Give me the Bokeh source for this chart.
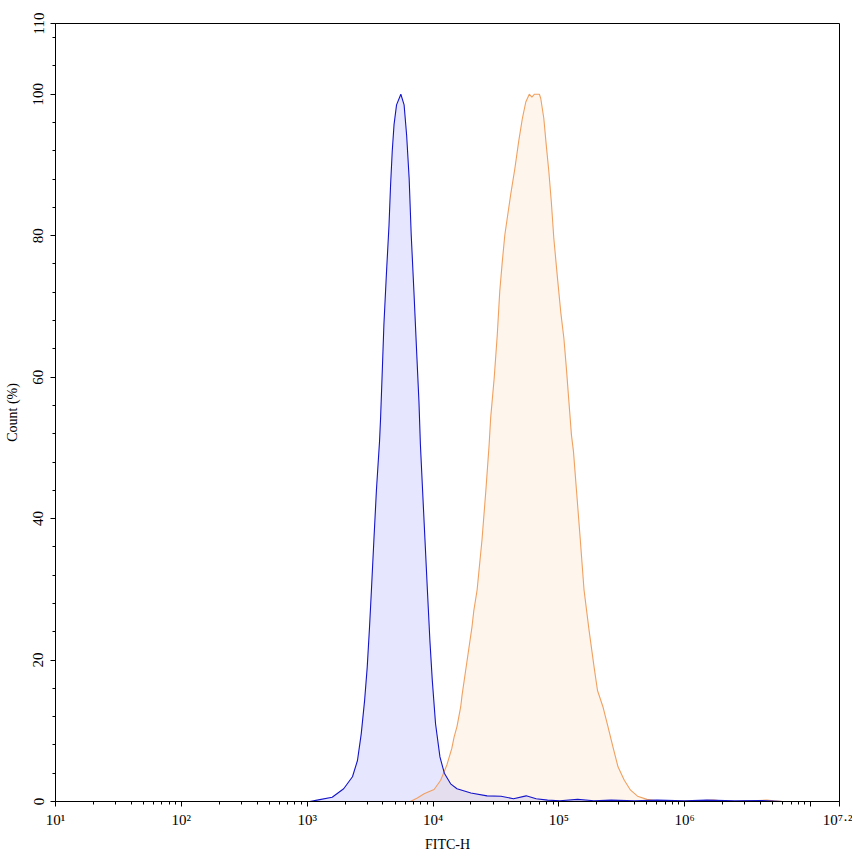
import math
from bokeh.plotting import figure
from bokeh.models import Range1d, FixedTicker
from bokeh.embed import file_html
from bokeh.resources import INLINE

# ---- data (FITC-H intensity, Count %) ----
blue_x = [1050, 1200, 1580, 1950, 2290, 2510, 2690, 2860, 3000, 3130, 3240, 3390, 3550,
          3760, 3830, 3950, 4070, 4270, 4470, 4600, 4740, 4900, 5130, 5550, 5890, 6170,
          6460, 6710, 7050, 7410, 7730, 7940, 8260, 8630, 9020, 9440, 9860, 10470, 11350,
          12300, 13800, 15500, 20000, 26900, 34700, 43600, 55000, 66000, 81300, 102000,
          141000, 190000, 260000, 400000, 600000, 1000000, 1500000, 2500000, 4000000,
          6000000]
blue_y = [0.0, 0.2, 0.6, 1.8, 3.5, 5.8, 9.6, 14.3, 19.0, 24.7, 29.9, 37.0, 44.0,
          51.0, 54.2, 60.8, 67.4, 74.9, 81.5, 87.2, 91.9, 95.7, 98.5, 100.0, 98.5, 94.2,
          88.1, 80.1, 72.1, 63.6, 56.5, 50.4, 44.0, 37.0, 29.9, 22.8, 17.2, 11.0, 6.3,
          4.0, 2.5, 1.8, 1.2, 0.8, 0.75, 0.4, 0.8, 0.4, 0.2, 0.1,
          0.3, 0.1, 0.2, 0.1, 0.2, 0.1, 0.2, 0.1, 0.15,
          0.0]

orange_x = [6600, 7500, 8500, 9550, 10200, 11500, 12900, 14100, 14700, 15500, 16600,
            17000, 18600, 20400, 21100, 22400, 24500, 26300, 27900, 28700, 30600, 32400,
            33900, 35500, 37200, 38900, 41400, 44700, 47900, 51300, 54600, 58200, 61000,
            64000, 70000, 71800, 75900, 79400, 83200, 87100, 91200, 97500, 103500, 109600,
            114800, 120200, 125900, 130600, 138000, 148000, 158500, 173800, 190500,
            202800, 223900, 245500, 269200, 295100, 331100, 371500, 421700, 501200,
            600000, 800000, 1400000, 1700000, 1950000, 2500000, 3800000, 4500000,
            5100000, 6000000]
orange_y = [0.0, 0.5, 1.1, 1.5, 1.7, 3.0, 5.2, 7.5, 9.1, 10.6, 13.4,
            15.0, 19.8, 24.7, 27.0, 29.9, 37.0, 44.0, 50.4, 54.2, 59.8, 66.0,
            72.1, 76.3, 80.1, 82.5, 85.8, 89.5, 93.3, 96.6, 98.9, 100.0, 99.6,
            100.0, 100.0, 99.4, 96.6, 92.8, 89.1, 84.8, 79.6, 74.0, 69.2, 65.5,
            61.2, 56.5, 51.8, 49.5, 44.0, 37.0, 29.9, 24.2, 19.0,
            15.7, 13.4, 10.6, 7.7, 4.9, 3.0, 1.6, 0.75, 0.3,
            0.1, 0.0, 0.15, 0.2, 0.1, 0.0, 0.15, 0.2,
            0.1, 0.0]

x_min = 10
x_max = 10 ** 7.23
x_ticks = [1e1, 1e2, 1e3, 1e4, 1e5, 1e6, 1e7, x_max]
x_tick_labels = ["10\u00b9", "10\u00b2", "10\u00b3", "10\u2074", "10\u2075", "10\u2076",
                 "", "10\u2077\u00b7\u00b2"]
x_minor = [k * 10 ** d for d in range(1, 7) for k in range(2, 10)]
y_ticks = [0, 20, 40, 60, 80, 100, 110]
y_tick_labels = ["0", "20", "40", "60", "80", "100", "110"]
y_minor = [v for v in range(4, 110, 4) if v % 20 != 0]

FONT = "Liberation Serif"

p = figure(frame_width=784, frame_height=778, x_axis_type="log",
           x_range=Range1d(x_min, x_max), y_range=Range1d(0, 110),
           output_backend="svg", toolbar_location=None,
           min_border_left=55, min_border_top=23, min_border_right=13, min_border_bottom=8)
p.background_fill_color = "white"
p.border_fill_color = "white"
p.outline_line_color = "black"
p.outline_line_alpha = 1.0
p.xgrid.visible = False
p.ygrid.visible = False

# fills
p.varea(x=orange_x, y1=0, y2=orange_y, fill_color="#f5b070", fill_alpha=0.13)
p.varea(x=blue_x, y1=0, y2=blue_y, fill_color="#8080ff", fill_alpha=0.2)
# lines
p.line(orange_x, orange_y, line_color="#f0a060", line_width=1.1)
p.line(blue_x, blue_y, line_color="#1414c8", line_width=1.1)

# x axis
xa = p.xaxis[0]
xa.ticker = FixedTicker(ticks=x_ticks, minor_ticks=x_minor)
xa.major_label_overrides = {t: lab for t, lab in zip(x_ticks, x_tick_labels)}
xa.axis_label = "FITC-H"
# y axis
ya = p.yaxis[0]
ya.ticker = FixedTicker(ticks=y_ticks, minor_ticks=y_minor)
ya.major_label_overrides = {t: lab for t, lab in zip(y_ticks, y_tick_labels)}
ya.major_label_orientation = "vertical"
ya.axis_label = "Count (%)"

for ax in (xa, ya):
    ax.axis_line_color = "black"
    ax.major_tick_line_color = "black"
    ax.minor_tick_line_color = "black"
    ax.major_tick_in = 0
    ax.major_tick_out = 5
    ax.minor_tick_in = 0
    ax.minor_tick_out = 3
    ax.major_label_text_font = FONT
    ax.major_label_text_font_size = "15px"
    ax.major_label_text_color = "black"
    ax.axis_label_text_font = FONT
    ax.axis_label_text_font_size = "14px"
    ax.axis_label_text_font_style = "normal"
    ax.axis_label_text_color = "black"
xa.major_label_standoff = 5
xa.axis_label_standoff = 6
ya.major_label_standoff = 7
ya.axis_label_standoff = 11

open("out.html", "w").write(file_html(p, INLINE))
